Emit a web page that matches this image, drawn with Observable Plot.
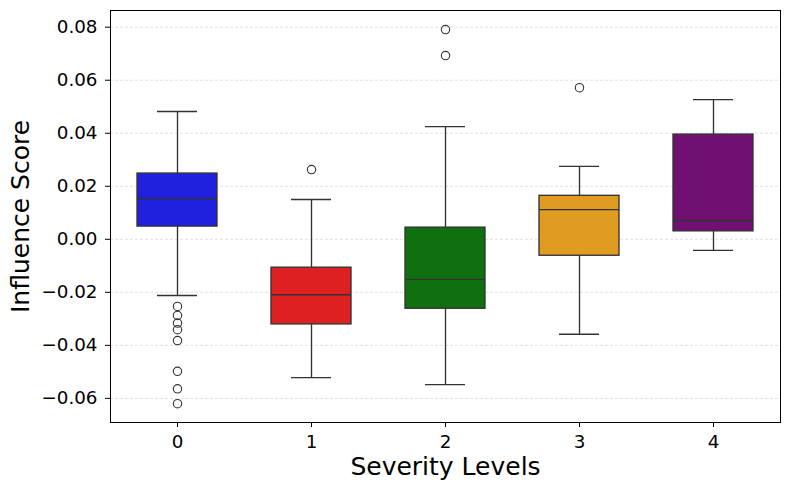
<!DOCTYPE html>
<html>
<head>
<meta charset="utf-8">
<script src="https://cdn.jsdelivr.net/npm/d3@7"></script>
<script src="https://cdn.jsdelivr.net/npm/@observablehq/plot@0.6"></script>
<style>
  html, body { margin: 0; padding: 0; background: #fff; }
  svg { display: block; }
</style>
</head>
<body>
<div id="chart"></div>
<script>
const categories = ["0", "1", "2", "3", "4"];
const colors = ["#2020df", "#df2020", "#107010", "#df9c20", "#701070"];
const whiskerLow = [-0.0212, -0.0522, -0.0548, -0.0358, -0.0042];
const q1 = [0.0048, -0.0321, -0.0262, -0.0062, 0.0030];
const median = [0.0154, -0.0209, -0.0151, 0.0112, 0.0071];
const q3 = [0.0248, -0.0107, 0.0044, 0.0164, 0.0395];
const whiskerHigh = [0.0482, 0.0150, 0.0425, 0.0275, 0.0527];
const outlierCategory = ["0", "0", "0", "0", "0", "0", "0", "0", "1", "2", "2", "3"];
const outlierValue = [-0.0253, -0.0287, -0.0316, -0.0341, -0.0382, -0.0498, -0.0564, -0.0620, 0.0263, 0.0791, 0.0693, 0.0572];
const yTicks = [-0.06, -0.04, -0.02, 0.00, 0.02, 0.04, 0.06, 0.08];
const xLabel = "Severity Levels";
const yLabel = "Influence Score";

const boxes = categories.map((c, i) => ({
  cat: c, color: colors[i], lo: whiskerLow[i], q1: q1[i], med: median[i], q3: q3[i], hi: whiskerHigh[i]
}));
const outliers = outlierCategory.map((c, i) => ({cat: c, value: outlierValue[i]}));

const lineColor = "#333333";
const lw = 1.35;

const chart = Plot.plot({
  width: 790,
  height: 490,
  marginLeft: 110,
  marginRight: 10,
  marginTop: 10,
  marginBottom: 68,
  style: {fontFamily: "'DejaVu Sans', sans-serif", fontSize: "18.3px", color: "#000", background: "#fff"},
  x: {type: "band", domain: categories, padding: 0, label: null},
  y: {domain: [-0.0691, 0.0863], label: null},
  marks: [
    Plot.ruleY(yTicks, {stroke: "#cccccc", strokeWidth: 0.6, strokeDasharray: "3,2"}),
    Plot.ruleX(boxes, {x: "cat", y1: "q3", y2: "hi", stroke: lineColor, strokeWidth: lw}),
    Plot.ruleX(boxes, {x: "cat", y1: "lo", y2: "q1", stroke: lineColor, strokeWidth: lw}),
    Plot.tickY(boxes, {x: "cat", y: "hi", stroke: lineColor, strokeWidth: lw, insetLeft: 47, insetRight: 47}),
    Plot.tickY(boxes, {x: "cat", y: "lo", stroke: lineColor, strokeWidth: lw, insetLeft: 47, insetRight: 47}),
    Plot.barY(boxes, {x: "cat", y1: "q1", y2: "q3", fill: "color", stroke: lineColor, strokeWidth: lw, insetLeft: 27, insetRight: 27}),
    Plot.tickY(boxes, {x: "cat", y: "med", stroke: lineColor, strokeWidth: lw, insetLeft: 27, insetRight: 27}),
    Plot.dot(outliers, {x: "cat", y: "value", r: 4.2, fill: "none", stroke: lineColor, strokeWidth: 1.1}),
    Plot.frame({stroke: "#000", strokeWidth: 1}),
    Plot.axisY({ticks: yTicks, tickFormat: d3.format(".2f"), tickSize: 5, tickPadding: 8, fontSize: 18.3, label: null, stroke: "#000"}),
    Plot.axisX({tickSize: 5, tickPadding: 7, fontSize: 18.3, label: null, stroke: "#000"}),
    Plot.text([xLabel], {text: d => d, frameAnchor: "bottom", textAnchor: "middle", lineAnchor: "bottom", dy: 52, fontSize: 25, fill: "#000"}),
    Plot.text([yLabel], {text: d => d, frameAnchor: "left", textAnchor: "middle", lineAnchor: "bottom", rotate: -90, dx: -82, fontSize: 25, fill: "#000"})
  ]
});
document.getElementById("chart").appendChild(chart);
</script>
</body>
</html>
